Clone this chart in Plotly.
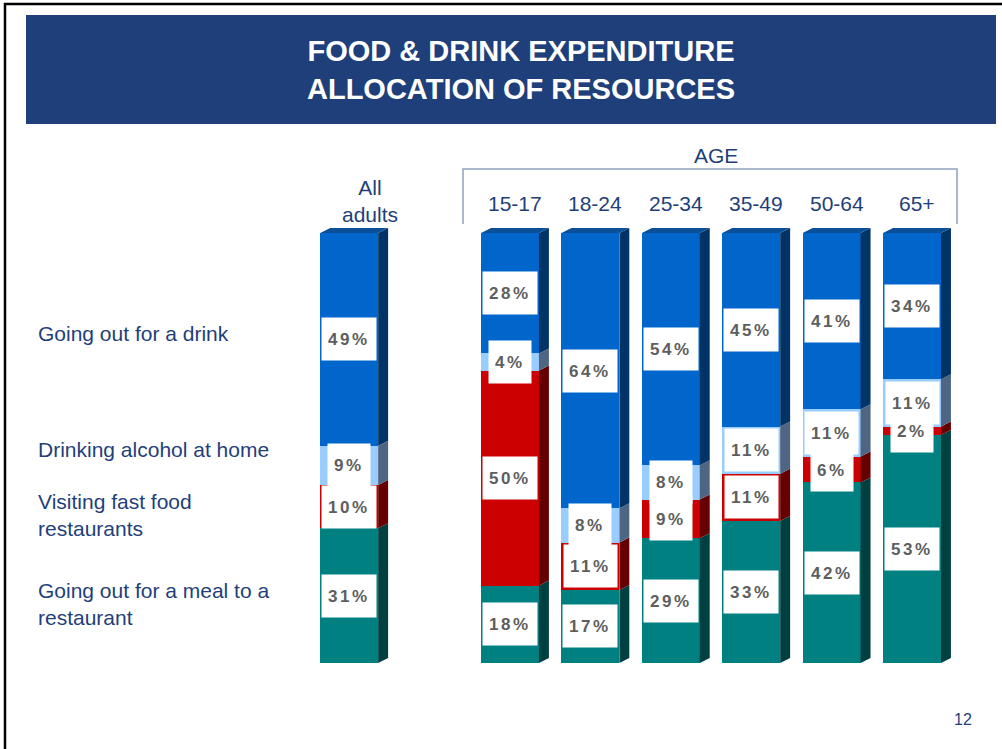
import plotly.graph_objects as go

# ---- data -------------------------------------------------------------
groups = ["All adults", "15-17", "18-24", "25-34", "35-49", "50-64", "65+"]
group_pos = [0, 2, 3, 4, 5, 6, 7]          # numeric slots, gap after "All adults"
age_labels = ["15-17", "18-24", "25-34", "35-49", "50-64", "65+"]

meal_out = [31, 18, 17, 29, 33, 42, 53]     # Going out for a meal to a restaurant
fast_food = [10, 50, 11, 9, 11, 6, 2]       # Visiting fast food restaurants
home_drink = [9, 4, 8, 8, 11, 11, 11]       # Drinking alcohol at home
drink_out = [49, 28, 64, 54, 45, 41, 34]    # Going out for a drink

series_names = [
    "Going out for a meal to a restaurant",
    "Visiting fast food restaurants",
    "Drinking alcohol at home",
    "Going out for a drink",
]
series_values = [meal_out, fast_food, home_drink, drink_out]
legend_text = [
    "Going out for a meal to a<br>restaurant",
    "Visiting fast food<br>restaurants",
    "Drinking alcohol at home",
    "Going out for a drink",
]

# ---- styling ----------------------------------------------------------
W, H = 1002, 749
FONT = "Liberation Sans, Arial, sans-serif"
NAVY = "#1F3F7A"
front_colors = ["#008080", "#CC0000", "#99CCFF", "#0066CC"]
side_colors = ["#004040", "#660000", "#4E6683", "#003366"]
top_color = "#0A4F98"
label_grey = "#5E5E5E"

BAR_W = 0.72      # bar width in slot units
DX = 0.124        # depth of the 3-D side face (x units)
DY = 1.16         # rise of the 3-D side face (y units)

# axis ranges chosen so that the plot area spans the whole page
X_RANGE = [-4.343, 8.119]
Y_RANGE = [-20.0, 154.19]


def px(x):
    return x / W


def py(y):
    return 1 - y / H


fig = go.Figure()

# front faces of the stacked bars (normalised to 100 %)
for name, vals, col in zip(series_names, series_values, front_colors):
    fig.add_trace(go.Bar(
        x=group_pos, y=vals, name=name, width=BAR_W,
        marker=dict(color=col, line=dict(width=0)),
        hoverinfo="skip", showlegend=False,
    ))

shapes = []
annotations = []

# side / top faces and value labels, from the normalised stacks
for i, xc in enumerate(group_pos):
    total = sum(s[i] for s in series_values)
    xl, xr = xc - BAR_W / 2, xc + BAR_W / 2
    base = 0.0
    for k, vals in enumerate(series_values):
        h = vals[i] / total * 100
        y0, y1 = base, base + h
        shapes.append(dict(
            type="path", xref="x", yref="y", layer="above",
            path=f"M{xr},{y0} L{xr + DX},{y0 + DY} L{xr + DX},{y1 + DY} L{xr},{y1} Z",
            fillcolor=side_colors[k], line=dict(width=0),
        ))
        annotations.append(dict(
            x=xc, y=(y0 + y1) / 2, xref="x", yref="y",
            xanchor="center", yanchor="middle",
            text=f"<b><span style='letter-spacing:2.5px'>{vals[i]}%</span></b>",
            showarrow=False, bgcolor="white", borderpad=6, height=30,
            font=dict(family=FONT, size=17, color=label_grey),
        ))
        base = y1
    shapes.append(dict(
        type="path", xref="x", yref="y", layer="above",
        path=f"M{xl},{base} L{xl + DX},{base + DY} L{xr + DX},{base + DY} L{xr},{base} Z",
        fillcolor=top_color, line=dict(width=0),
    ))

# page frame and title banner
shapes += [
    dict(type="line", xref="paper", yref="paper", x0=px(4), x1=px(1002), y0=py(4), y1=py(4),
         line=dict(color="black", width=2.5)),
    dict(type="line", xref="paper", yref="paper", x0=px(5), x1=px(5), y0=py(3), y1=py(749),
         line=dict(color="black", width=2.5)),
    dict(type="rect", xref="paper", yref="paper", x0=px(26), x1=px(996), y0=py(15), y1=py(124),
         fillcolor=NAVY, line=dict(width=0), layer="below"),
    # AGE bracket
    dict(type="path", xref="paper", yref="paper",
         path=f"M{px(463)},{py(224)} L{px(463)},{py(169)} L{px(957)},{py(169)} L{px(957)},{py(224)}",
         line=dict(color="#8FA1BE", width=1.5)),
]

annotations.append(dict(
    x=px(521), y=py(70), xref="paper", yref="paper", showarrow=False,
    xanchor="center", yanchor="middle",
    text="<b>FOOD &amp; DRINK EXPENDITURE<br>ALLOCATION OF RESOURCES</b>",
    font=dict(family=FONT, size=29, color="white"), align="center",
))

# category labels on the left
legend_y = [604, 515, 449, 333]
for txt, yy in zip(legend_text, legend_y):
    annotations.append(dict(
        x=px(36), y=py(yy), xref="paper", yref="paper", showarrow=False,
        xanchor="left", yanchor="middle",
        text=txt, align="left",
        font=dict(family=FONT, size=21, color=NAVY),
    ))

# column headings
annotations.append(dict(
    x=px(370), y=py(201), xref="paper", yref="paper", showarrow=False,
    xanchor="center", yanchor="middle",
    text="All<br>adults", align="center",
    font=dict(family=FONT, size=21, color=NAVY),
))
for lab, xc in zip(age_labels, group_pos[1:]):
    annotations.append(dict(
        x=xc + DX / 2, y=py(204), xref="x", yref="paper", showarrow=False,
        xanchor="center", yanchor="middle",
        text=lab, font=dict(family=FONT, size=21, color=NAVY),
    ))
annotations.append(dict(
    x=px(716), y=py(155), xref="paper", yref="paper", showarrow=False,
    xanchor="center", yanchor="middle",
    text="AGE", font=dict(family=FONT, size=21, color=NAVY),
))
annotations.append(dict(
    x=px(963), y=py(719), xref="paper", yref="paper", showarrow=False,
    xanchor="center", yanchor="middle",
    text="12", font=dict(family=FONT, size=16, color=NAVY),
))

fig.update_layout(
    width=W, height=H,
    margin=dict(l=0, r=0, t=0, b=0),
    paper_bgcolor="white", plot_bgcolor="white",
    barmode="stack", barnorm="percent", bargap=0,
    xaxis=dict(range=X_RANGE, visible=False, fixedrange=True),
    yaxis=dict(range=Y_RANGE, visible=False, fixedrange=True),
    shapes=shapes, annotations=annotations,
    showlegend=False,
)

fig.write_html("out.html", include_plotlyjs=True, config={"displayModeBar": False})
